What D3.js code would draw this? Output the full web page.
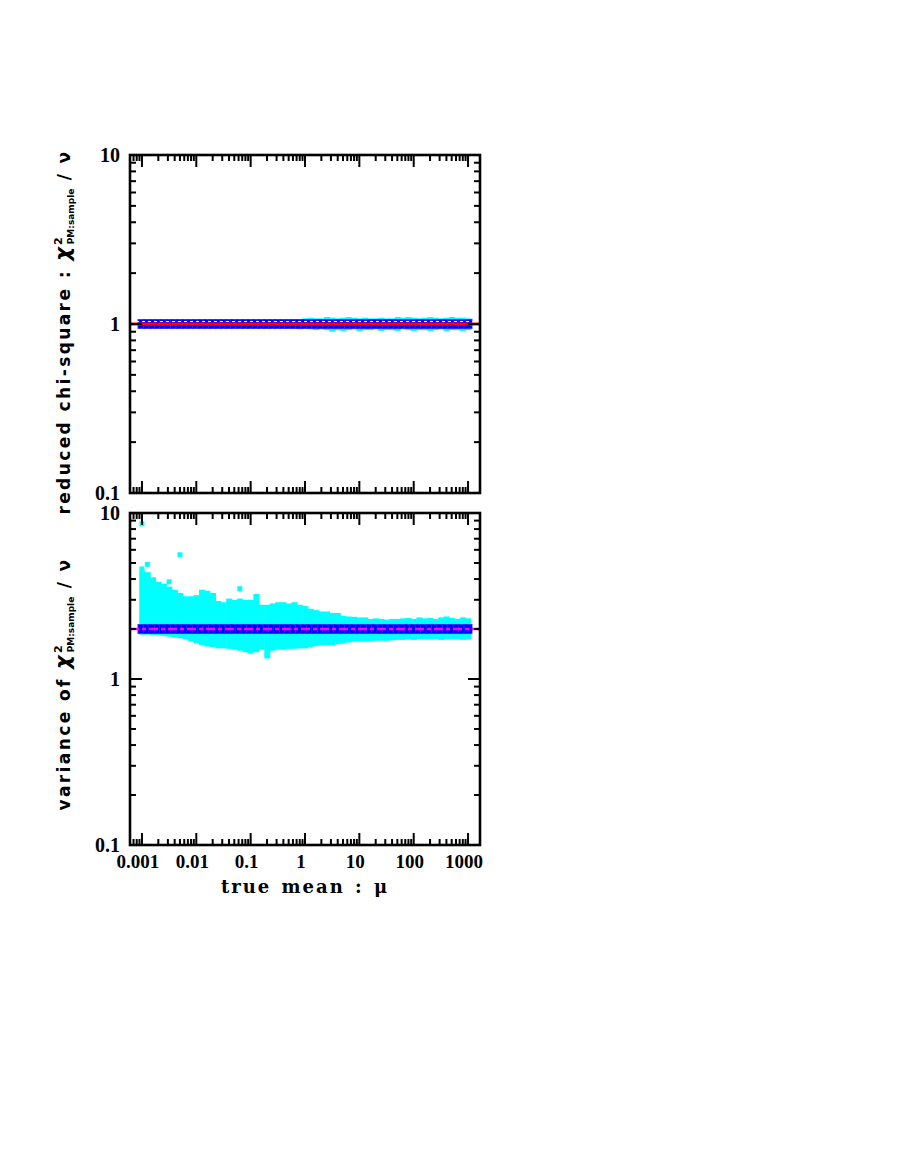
<!DOCTYPE html>
<html>
<head>
<meta charset="utf-8">
<script src="https://cdn.jsdelivr.net/npm/d3@7"></script>
<style>
  body { margin: 0; background: #fff; }
  svg { display: block; }
</style>
</head>
<body>
<div class="chart"></div>
<script>
// mu grid (10 per decade) for the simulated samples
var muGrid = [0.001, 0.00126, 0.00158, 0.002, 0.00251, 0.00316, 0.00398, 0.00501, 0.00631, 0.00794,
  0.01, 0.0126, 0.0158, 0.02, 0.0251, 0.0316, 0.0398, 0.0501, 0.0631, 0.0794,
  0.1, 0.126, 0.158, 0.2, 0.251, 0.316, 0.398, 0.501, 0.631, 0.794,
  1, 1.26, 1.58, 2, 2.51, 3.16, 3.98, 5.01, 6.31, 7.94,
  10, 12.6, 15.8, 20, 25.1, 31.6, 39.8, 50.1, 63.1, 79.4,
  100, 126, 158, 200, 251, 316, 398, 501, 631, 794, 1000];

// bottom panel: spread of variance / nu over the samples (cyan)
var varHi = [4.5, 4.4, 4.1, 3.85, 3.75, 3.6, 3.45, 3.3, 3.15, 3.15,
  3.2, 3.45, 3.4, 3.3, 2.95, 2.9, 3.05, 3.0, 3.05, 3.0,
  3.0, 3.25, 2.8, 2.8, 2.85, 2.9, 2.9, 2.85, 2.9, 2.8,
  2.75, 2.65, 2.6, 2.55, 2.55, 2.5, 2.5, 2.4, 2.38, 2.37,
  2.35, 2.35, 2.3, 2.32, 2.3, 2.28, 2.3, 2.3, 2.32, 2.33,
  2.3, 2.35, 2.32, 2.33, 2.3, 2.35, 2.38, 2.33, 2.3, 2.35, 2.32];
var varLo = [1.85, 1.85, 1.84, 1.83, 1.82, 1.8, 1.78, 1.76, 1.73, 1.68,
  1.64, 1.6, 1.57, 1.55, 1.53, 1.53, 1.52, 1.5, 1.48, 1.45,
  1.42, 1.45, 1.5, 1.33, 1.48, 1.5, 1.5, 1.52, 1.52, 1.53,
  1.53, 1.55, 1.58, 1.6, 1.6, 1.6, 1.62, 1.64, 1.66, 1.68,
  1.68, 1.68, 1.69, 1.7, 1.7, 1.7, 1.71, 1.72, 1.72, 1.73,
  1.72, 1.74, 1.73, 1.73, 1.74, 1.72, 1.73, 1.74, 1.73, 1.72, 1.73];
var varOutMu = [0.001, 0.00126, 0.001, 0.00501, 0.00316, 0.0631];
var varOutVal = [8.6, 4.9, 4.6, 5.6, 3.85, 3.5];

// top panel: spread of reduced chi-square (cyan), visible from mu ~ 0.6
var chiStart = 28;
var chiHi = [1.07, 1.06, 1.08, 1.09, 1.08, 1.08, 1.1, 1.09, 1.08, 1.09, 1.1, 1.09, 1.08,
  1.09, 1.08, 1.08, 1.09, 1.08, 1.08, 1.1, 1.09, 1.1, 1.09, 1.08, 1.09, 1.1, 1.09,
  1.08, 1.09, 1.1, 1.09, 1.09, 1.08];
var chiLo = [0.94, 0.93, 0.94, 0.93, 0.92, 0.93, 0.92, 0.9, 0.92, 0.91, 0.92, 0.93, 0.91,
  0.92, 0.92, 0.93, 0.91, 0.92, 0.92, 0.91, 0.93, 0.92, 0.91, 0.92, 0.92, 0.91, 0.92,
  0.93, 0.91, 0.92, 0.92, 0.91, 0.92];

// expected values
var chiExpected = 1;
var varExpected = 2;

var xTicks = [0.001, 0.01, 0.1, 1, 10, 100, 1000];
var xTickLabels = ["0.001", "0.01", "0.1", "1", "10", "100", "1000"];
var yTicks = [0.1, 1, 10];
var yTickLabels = ["0.1", "1", "10"];

var svgWidth = 900;
var svgHeight = 1165;

var svg = d3.select(".chart")
  .append("svg")
  .attr("width", svgWidth)
  .attr("height", svgHeight);

var xScale = d3.scaleLog()
  .domain([Math.pow(10, -3.22), Math.pow(10, 3.22)])
  .range([130, 480]);

var yTop = d3.scaleLog().domain([0.1, 10]).range([493, 155]);
var yBot = d3.scaleLog().domain([0.1, 10]).range([845, 513]);

var half = Math.pow(10, 0.05);
function colX(mu) { return xScale(mu / half); }
function colW(mu) { return xScale(mu * half) - xScale(mu / half) + 0.6; }

// ---------- data marks ----------
function drawBlue(g, y, val) {
  g.append("g").selectAll("rect")
    .data(muGrid)
    .enter()
    .append("rect")
    .attr("x", d => xScale(d) - 4)
    .attr("y", y(val) - 4.5)
    .attr("width", 8)
    .attr("height", 9)
    .attr("fill", "#0000ff")
    .attr("stroke", "#2a2aff")
    .attr("stroke-width", 0.8);
}

// top panel
var topPanel = svg.append("g");
topPanel.append("g").selectAll("rect")
  .data(chiHi)
  .enter()
  .append("rect")
  .attr("x", (d, i) => colX(muGrid[chiStart + i]))
  .attr("width", (d, i) => colW(muGrid[chiStart + i]))
  .attr("y", d => yTop(d))
  .attr("height", (d, i) => yTop(chiLo[i]) - yTop(d))
  .attr("fill", "#00ffff");
drawBlue(topPanel, yTop, chiExpected);
topPanel.append("line")
  .attr("x1", xScale.range()[0]).attr("x2", xScale.range()[1])
  .attr("y1", yTop(chiExpected) - 2.5).attr("y2", yTop(chiExpected) - 2.5)
  .attr("stroke", "#ffffff").attr("stroke-width", 1.2)
  .attr("stroke-dasharray", "3,3");
topPanel.append("line")
  .attr("x1", xScale.range()[0]).attr("x2", xScale.range()[1])
  .attr("y1", yTop(chiExpected)).attr("y2", yTop(chiExpected))
  .attr("stroke", "#ff0000").attr("stroke-width", 3);

// bottom panel
var botPanel = svg.append("g");
botPanel.append("g").selectAll("rect")
  .data(varHi)
  .enter()
  .append("rect")
  .attr("x", (d, i) => colX(muGrid[i]))
  .attr("width", (d, i) => colW(muGrid[i]))
  .attr("y", d => yBot(d))
  .attr("height", (d, i) => yBot(varLo[i]) - yBot(d))
  .attr("fill", "#00ffff");
botPanel.append("g").selectAll("rect")
  .data(varOutVal)
  .enter()
  .append("rect")
  .attr("x", (d, i) => xScale(varOutMu[i]) - 2.5)
  .attr("y", d => yBot(d) - 2.5)
  .attr("width", 5)
  .attr("height", 5)
  .attr("fill", "#00ffff");
drawBlue(botPanel, yBot, varExpected);
botPanel.append("line")
  .attr("x1", xScale.range()[0]).attr("x2", xScale.range()[1])
  .attr("y1", yBot(varExpected)).attr("y2", yBot(varExpected))
  .attr("stroke", "#ff00ff").attr("stroke-width", 2.5)
  .attr("stroke-dasharray", "9,3,4,3");

// ---------- frames and ticks ----------
function drawFrame(y, showX) {
  var g = svg.append("g");
  var x0 = xScale.range()[0], x1 = xScale.range()[1];
  var y0 = y.range()[1], y1 = y.range()[0];

  var xt = xScale.ticks(12);
  var yt = y.ticks(10);

  // ticks on all four sides, pointing inward
  xt.forEach(function(t) {
    var major = xTicks.indexOf(t) >= 0;
    var len = major ? 12 : 6;
    g.append("line").attr("x1", xScale(t)).attr("x2", xScale(t))
      .attr("y1", y1).attr("y2", y1 - len);
    g.append("line").attr("x1", xScale(t)).attr("x2", xScale(t))
      .attr("y1", y0).attr("y2", y0 + len);
  });
  yt.forEach(function(t) {
    var major = yTicks.indexOf(t) >= 0;
    var len = major ? 12 : 6;
    g.append("line").attr("x1", x0).attr("x2", x0 + len)
      .attr("y1", y(t)).attr("y2", y(t));
    g.append("line").attr("x1", x1).attr("x2", x1 - len)
      .attr("y1", y(t)).attr("y2", y(t));
  });
  g.selectAll("line").attr("stroke", "#000").attr("stroke-width", 2);

  g.append("rect")
    .attr("x", x0).attr("y", y0)
    .attr("width", x1 - x0).attr("height", y1 - y0)
    .attr("fill", "none").attr("stroke", "#000").attr("stroke-width", 2.6);

  // y tick labels
  g.selectAll(".ylab")
    .data(yTicks)
    .enter()
    .append("text")
    .attr("x", 120)
    .attr("y", d => y(d))
    .attr("dy", "0.36em")
    .attr("text-anchor", "end")
    .style("font-family", "Liberation Serif")
    .style("font-weight", "bold")
    .style("font-size", "20px")
    .text((d, i) => yTickLabels[i]);

  if (showX) {
    g.selectAll(".xlab")
      .data(xTicks)
      .enter()
      .append("text")
      .attr("x", d => xScale(d) - 4)
      .attr("y", y1 + 23)
      .attr("text-anchor", "middle")
      .style("font-family", "Liberation Serif")
      .style("font-weight", "bold")
      .style("font-size", "19px")
      .text((d, i) => xTickLabels[i]);
  }
  return g;
}

drawFrame(yTop, false);
drawFrame(yBot, true);

// ---------- axis titles ----------
svg.append("text")
  .attr("x", 305)
  .attr("y", 893)
  .attr("text-anchor", "middle")
  .style("font-family", "DejaVu Serif")
  .style("font-weight", "bold")
  .style("font-size", "18px")
  .style("letter-spacing", "2px")
  .style("word-spacing", "2px")
  .text("true mean : \u03bc");

function yTitle(cx, cy, prefix) {
  var t = svg.append("text")
    .attr("transform", `translate(${cx}, ${cy}) rotate(-90)`)
    .attr("text-anchor", "middle")
    .style("font-family", "DejaVu Sans")
    .style("font-weight", "bold")
    .style("font-size", "17px")
    .style("letter-spacing", "2.4px");
  t.append("tspan").text(prefix);
  t.append("tspan").style("font-size", "21px").style("font-style", "italic").text("\u03c7");
  t.append("tspan").attr("dy", -8).style("font-size", "11px").style("letter-spacing", "0px").text("2");
  t.append("tspan").attr("dx", -7).attr("dy", 12).style("font-size", "9px").style("letter-spacing", "0px").text("PM:sample");
  t.append("tspan").attr("dy", -4).text(" / \u03bd");
}

yTitle(70, 332, "reduced chi-square : ");
yTitle(70, 684, "variance of ");
</script>
</body>
</html>
